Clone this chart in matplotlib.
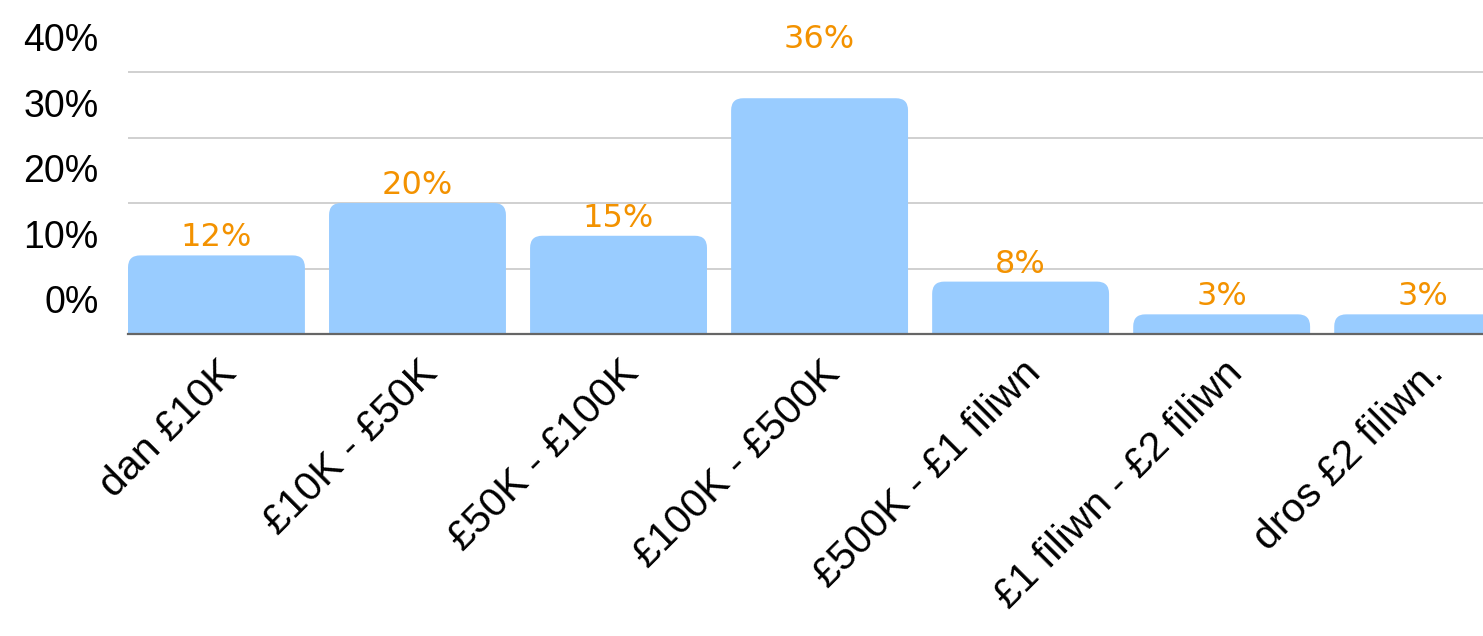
import matplotlib.pyplot as plt
from matplotlib.patches import FancyBboxPatch
from matplotlib.transforms import ScaledTranslation

categories = ["dan £10K", "£10K - £50K", "£50K - £100K", "£100K - £500K",
              "£500K - £1 filiwn", "£1 filiwn - £2 filiwn", "dros £2 filiwn."]
values = [12, 20, 15, 36, 8, 3, 3]
ytick_vals = [0, 10, 20, 30, 40]
ytick_labels = ["0%", "10%", "20%", "30%", "40%"]

bar_color = "#99CCFF"
label_color = "#F39200"

fig = plt.figure(figsize=(14.83, 6.36), dpi=100)
ax = fig.add_axes([128 / 1483, 302 / 636, 1355 / 1483, 334 / 636])

x = list(range(len(categories)))
bars = ax.bar(x, values, width=0.88, color=bar_color)

# swap plain rectangles for ones with rounded top corners
# (bottom corners pushed below the baseline so they get clipped)
for rect in bars:
    rect.set_visible(False)
    x0, w, h = rect.get_x(), rect.get_width(), rect.get_height()
    p = FancyBboxPatch((x0, -4), w, h + 4,
                       boxstyle="round,pad=0,rounding_size=0.06",
                       mutation_aspect=30.7, facecolor=bar_color,
                       edgecolor="none", zorder=2)
    ax.add_patch(p)

ax.set_xlim(-0.44, 6.30)
ax.set_ylim(0, 51)

ax.set_yticks(ytick_vals)
ax.set_yticklabels(ytick_labels, fontsize=27, family="Liberation Sans")
ax.tick_params(axis="y", length=0, pad=21)
shift_up = ScaledTranslation(0, 0.35, fig.dpi_scale_trans)
for lab in ax.get_yticklabels():
    lab.set_transform(lab.get_transform() + shift_up)

ax.grid(axis="y", color="#C8C8C8", linewidth=1.2, zorder=0)
ax.set_axisbelow(True)

for s in ["top", "right", "left"]:
    ax.spines[s].set_visible(False)
ax.spines["bottom"].set_color("#666666")
ax.spines["bottom"].set_linewidth(1.6)
ax.spines["bottom"].set_zorder(3)

ax.set_xticks(x)
ax.set_xticklabels(categories, fontsize=29.5, family="Liberation Sans",
                   rotation=45, ha="right", va="top", rotation_mode="anchor")
ax.tick_params(axis="x", length=0, pad=2)
shift_xl = ScaledTranslation(0.01, -0.17, fig.dpi_scale_trans)
for lab in ax.get_xticklabels():
    lab.set_transform(lab.get_transform() + shift_xl)

for i, v in enumerate(values):
    if v + 5 > ytick_vals[-1]:
        ax.text(i, ytick_vals[-1] + 5, f"{v}%", ha="center", va="center",
                fontsize=23, color=label_color, family="DejaVu Sans",
                clip_on=False, zorder=4)
    else:
        ax.annotate(f"{v}%", (i, v), xytext=(0, 1.5), textcoords="offset points",
                    ha="center", va="bottom", fontsize=23, color=label_color,
                    family="DejaVu Sans", annotation_clip=False, zorder=4)

fig.savefig("out.png", dpi=100)
